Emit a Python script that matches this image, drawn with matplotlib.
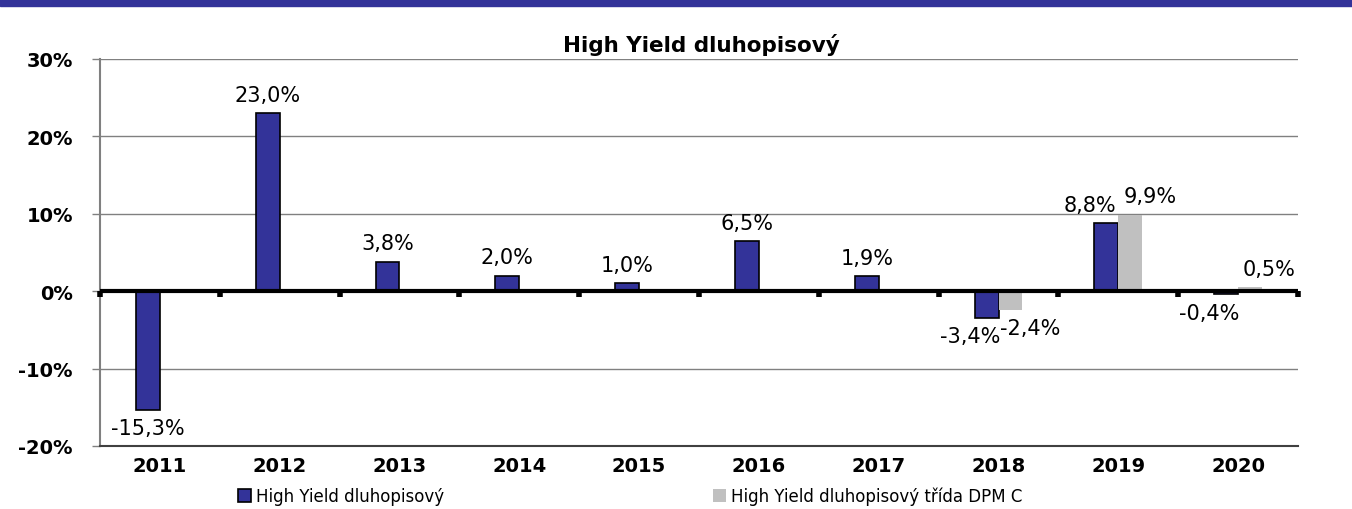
import matplotlib
matplotlib.use("Agg")
import matplotlib.pyplot as plt
from matplotlib.patches import Rectangle
import numpy as np

years = ["2011", "2012", "2013", "2014", "2015", "2016", "2017", "2018", "2019", "2020"]
series_a = [-15.3, 23.0, 3.8, 2.0, 1.0, 6.5, 1.9, -3.4, 8.8, -0.4]
series_b = [None, None, None, None, None, None, None, -2.4, 9.9, 0.5]
name_a = "High Yield dluhopisový"
name_b = "High Yield dluhopisový třída DPM C"
title = "High Yield dluhopisový"
yticks = [-20, -10, 0, 10, 20, 30]

BLUE = "#333399"
GREY = "#C0C0C0"
FONT = "DejaVu Sans"

fig = plt.figure(figsize=(13.52, 5.10), dpi=100)
fig.patch.set_facecolor("white")
# top band
fig.patches.append(Rectangle((0, 1 - 7 / 510), 1, 7 / 510, transform=fig.transFigure,
                             color=BLUE, zorder=0))

ax = fig.add_axes([100 / 1352, 1 - 447 / 510, 1198 / 1352, 387 / 510])
x = np.arange(len(years))
w = 0.2

ax.bar(x - w / 2, series_a, width=w, color=BLUE, edgecolor="black", linewidth=1.2, zorder=3)
xb = [xi + w / 2 for xi, v in zip(x, series_b) if v is not None]
vb = [v for v in series_b if v is not None]
ax.bar(xb, vb, width=w, color=GREY, edgecolor="none", zorder=3)

ax.set_xlim(-0.5, len(years) - 0.5)
ax.set_ylim(-20, 30)
ax.set_yticks(yticks)
ax.set_yticklabels([f"{t}%" for t in yticks], fontweight="bold", fontsize=14, family=FONT)
ax.tick_params(axis="y", length=6, width=1, color="#808080", pad=13.5)
ax.set_xticks(x)
ax.set_xticklabels(years, fontweight="bold", fontsize=14, family=FONT)
ax.tick_params(axis="x", length=0, pad=7)
ax.grid(axis="y", color="#808080", linewidth=1, zorder=0)
ax.set_axisbelow(True)
for s in ["top", "right"]:
    ax.spines[s].set_visible(False)
ax.spines["left"].set_color("#808080")
ax.spines["left"].set_linewidth(1.5)
ax.spines["bottom"].set_color("#404040")
ax.spines["bottom"].set_linewidth(1.5)

# zero line with category-boundary ticks
ax.axhline(0, color="black", linewidth=3, zorder=4)
for b in np.arange(-0.5, len(years) + 0.5, 1.0):
    ax.plot([b, b], [0, -0.8], color="black", linewidth=4, zorder=4, solid_capstyle="butt",
            clip_on=False)

def fmt(v):
    return f"{v:.1f}%".replace(".", ",")

def label(xc, v, dx=0):
    dy = 6 if v >= 0 else -6
    va = "bottom" if v >= 0 else "top"
    ax.annotate(fmt(v), (xc, v), xytext=(dx, dy), textcoords="offset points",
                ha="center", va=va, fontsize=15, family=FONT, zorder=5)

two = [v is not None for v in series_b]
for i, v in enumerate(series_a):
    label(x[i] - w / 2, v, dx=-12 if two[i] else 0)
for i, v in enumerate(series_b):
    if v is not None:
        label(x[i] + w / 2, v, dx=14)

fig.text(701 / 1352, 1 - 45 / 510, title, ha="center", va="center", fontweight="bold",
         fontsize=15.5, family=FONT)

h1 = Rectangle((0, 0), 1, 1, facecolor=BLUE, edgecolor="black", linewidth=1.2)
h2 = Rectangle((0, 0), 1, 1, facecolor=GREY, edgecolor="none")
fig.legend([h1, h2], [name_a, name_b], loc="center left", bbox_to_anchor=(238 / 1352, 1 - 497 / 510),
           ncol=2, frameon=False, prop={"family": FONT, "size": 12}, handlelength=0.8,
           handleheight=0.8, handletextpad=0.3, columnspacing=16.1, borderpad=0, borderaxespad=0)

fig.savefig("out.png", dpi=100)
